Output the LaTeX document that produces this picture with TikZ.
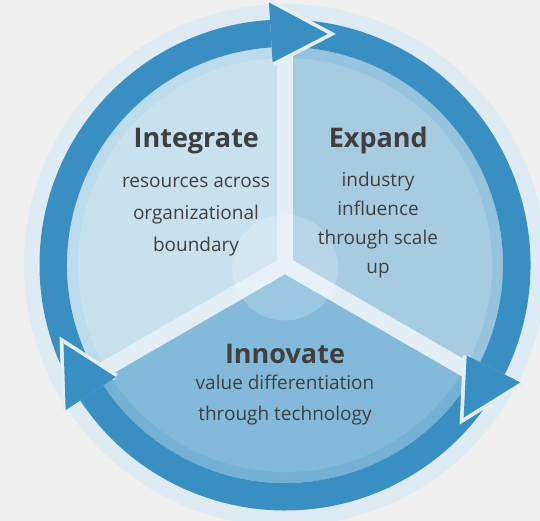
\documentclass[tikz,border=0pt]{standalone}
\usepackage{fontspec}
\setmainfont{Open Sans}
\usepackage{tikz}

\definecolor{canvas}{HTML}{F0F0F0}
\definecolor{halo}{HTML}{DFEBF3}
\definecolor{ringblue}{HTML}{398EC2}
\definecolor{gapwhite}{HTML}{E3EEF5}
\definecolor{integrate}{HTML}{C8E1EE}
\definecolor{integrateedge}{HTML}{BCDBEC}
\definecolor{expand}{HTML}{A7CCE2}
\definecolor{expandedge}{HTML}{96C3DE}
\definecolor{innovate}{HTML}{83BAD9}
\definecolor{innovateedge}{HTML}{74B1D4}
\definecolor{txt}{HTML}{3F3F3F}

\begin{document}
\begin{tikzpicture}[x=1pt, y=1pt,
    heading/.style={font=\fontsize{27}{30}\selectfont\bfseries, text=txt, anchor=base, inner sep=0pt},
    body/.style={text=txt, anchor=base, inner sep=0pt, align=center}]
    \fill[canvas] (-285,-256) rectangle (255,265);
    \useasboundingbox (-285,-256) rectangle (255,265);

    % pale halo and the three pie slices
    \fill[halo] (0,0) circle (261);
    \foreach \a/\b/\c in {90/210/integrate, -30/90/expand, 210/330/innovate} {
        \fill[\c edge] (0,0) -- (\a:218) arc[start angle=\a, end angle=\b, radius=218] -- cycle;
        \fill[\c] (0,0) -- (\a:207) arc[start angle=\a, end angle=\b, radius=207] -- cycle;
    }

    % spokes between the slices
    \foreach \t in {90,-30,210}
        \draw[gapwhite, line width=16pt] (0,0) -- (\t:218);
    \fill[white, opacity=0.2] (0,-2.5) circle (53);

    % cycle arrows: ring pieces first, heads on top
    \foreach \t/\s in {90/210, -30/90, 210/330}
        \fill[ringblue] ({\t+3.5}:245.5) arc[start angle={\t+3.5}, end angle=\s, radius=245.5]
            -- (\s:218) arc[start angle=\s, end angle={\t+3.5}, radius=218] -- cycle;
    \foreach \t in {90,-30,210} {
        \draw[gapwhite, line width=7.5pt] ({\t+3.5}:263) -- ({\t-10.5}:235) -- ({\t+3.5}:203);
        \fill[ringblue] ({\t+3.5}:263) -- ({\t-10.5}:235) -- ({\t+3.5}:203) -- cycle;
    }

    % labels (body nodes sit on the baseline of their last line)
    \node[heading] (integrate) at (-88.7,117.3) {Integrate};
    \node[heading] (expand) at (93.3,117.7) {Expand};
    \node[heading] (innovate) at (0,-99) {Innovate};
    \node[body, font=\fontsize{19}{32}\selectfont] (integratetxt) at (-89,13)
        {resources across\\organizational\\boundary};
    \node[body, font=\fontsize{19}{29}\selectfont] (expandtxt) at (93,-9)
        {industry\\influence\\through scale\\up};
    \node[body, font=\fontsize{19}{30}\selectfont] (innovatetxt) at (0,-155)
        {value differentiation\\through technology};
\end{tikzpicture}
\end{document}
